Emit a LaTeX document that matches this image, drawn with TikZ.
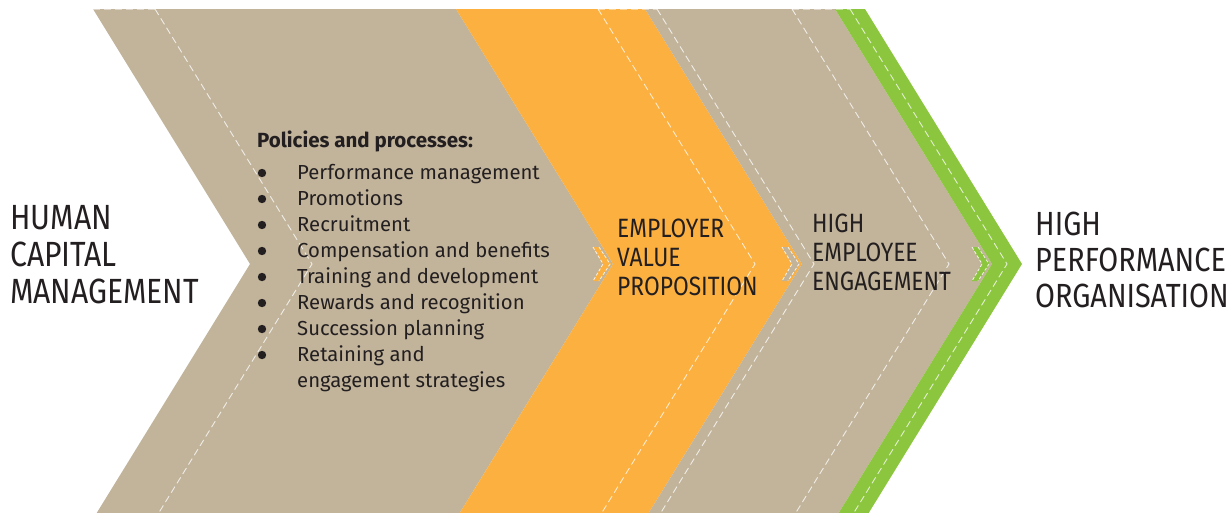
\documentclass[tikz,border=0pt]{standalone}
\usepackage{fontspec}
\setmainfont{Fira Sans}
\newfontfamily\capsfont{Fira Sans}[FakeStretch=0.86]
\definecolor{chtan}{HTML}{C2B49B}
\definecolor{chorange}{HTML}{FBB040}
\definecolor{chgreen}{HTML}{8CC63F}
\definecolor{txt}{HTML}{231F20}
\tikzset{
  dashline/.style={draw=white, line width=0.9pt, dash pattern=on 7pt off 4pt, opacity=0.75},
  topdash/.style={draw=white, line width=0.9pt, dash pattern=on 7pt off 4pt, opacity=0.45},
  markerline/.style={draw=white, line width=0.8pt, dash pattern=on 3pt off 2pt, opacity=0.85},
  lbl/.style={inner sep=0pt, align=left, text=txt, anchor=north west},
  bulletdot/.style={fill=txt},
}
\begin{document}
\begin{tikzpicture}[x=1pt,y=-1pt]
\useasboundingbox (0,0) rectangle (1232,512);
\begin{scope}
\clip (0,9) rectangle (1232,512);
% chevrons
\fill[chtan] (93,9) -- (456,9) -- (613,264) -- (456,519) -- (93,519) -- (250,264) -- cycle;
\fill[chorange] (456,9) -- (645,9) -- (802,264) -- (645,519) -- (456,519) -- (613,264) -- cycle;
\fill[chtan] (645,9) -- (835,9) -- (992,264) -- (835,519) -- (645,519) -- (802,264) -- cycle;
\fill[chgreen] (835,9) -- (865,9) -- (1022,264) -- (865,519) -- (835,519) -- (992,264) -- cycle;
% dashed inner chevrons
\foreach \x in {155,598,657,792,850}
  \draw[dashline] (\x,9) -- (\x+157,264) -- (\x,519);
% faint top dashes
\draw[topdash] (93,9.5) -- (155,9.5);
\draw[topdash] (598,9.5) -- (657,9.5);
\draw[topdash] (792,9.5) -- (850,9.5);
\end{scope}
% small markers at tips
\foreach \T/\c in {613/chorange,802/chtan,992/chgreen}{
  \fill[\c] (\T-20,247) -- (\T-14,247) -- (\T-2,264) -- (\T-14,281) -- (\T-20,281) -- (\T-10,264) -- cycle;
  \draw[markerline] (\T-20,247) -- (\T-10,264) -- (\T-20,281);
  \draw[markerline] (\T-14,247) -- (\T-3,264) -- (\T-14,281);
}
% texts
\node[lbl, font=\capsfont\fontsize{35}{37}\selectfont] (hcm) at (10,205) {HUMAN\\CAPITAL\\MANAGEMENT};
\node[lbl, font=\capsfont\fontsize{26.5}{29}\selectfont] (evp) at (617,219) {EMPLOYER\\VALUE\\PROPOSITION};
\node[lbl, font=\capsfont\fontsize{26.5}{29}\selectfont] (hee) at (812,214) {HIGH\\EMPLOYEE\\ENGAGEMENT};
\node[lbl, font=\capsfont\fontsize{33.5}{36}\selectfont] (hpo) at (1035,212) {HIGH\\PERFORMANCE\\ORGANISATION};
\node[lbl, font=\fontsize{20.5}{26}\selectfont\bfseries] (pp) at (257,131) {Policies and processes:};
\node[lbl, font=\fontsize{20.3}{26}\selectfont] (list) at (297,164) {%
Performance management\\
Promotions\\
Recruitment\\
Compensation and benefits\\
Training and development\\
Rewards and recognition\\
Succession planning\\
Retaining and\\
engagement strategies};
% bullets
\foreach \i in {0,...,7}
  \fill[bulletdot] (262,173+26*\i) circle [radius=4.2pt];
\end{tikzpicture}
\end{document}
